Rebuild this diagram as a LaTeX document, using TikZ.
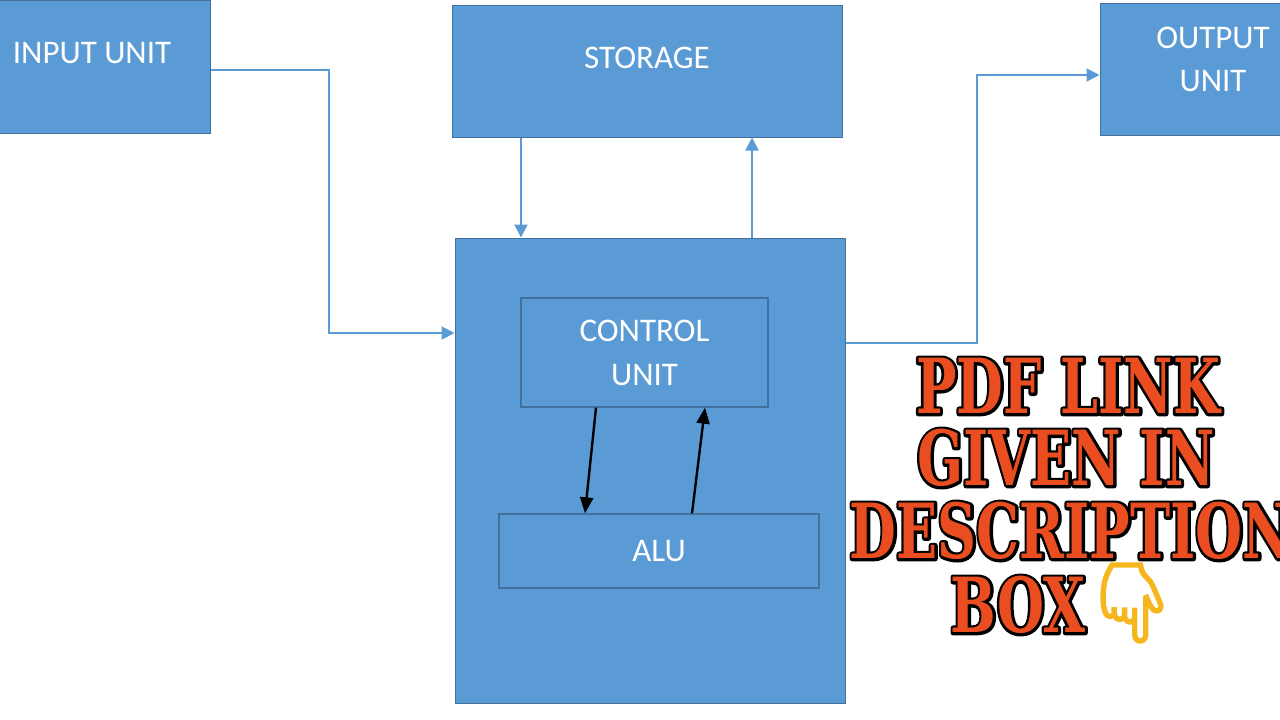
\documentclass[tikz,border=0pt]{standalone}
\usepackage{fontspec}
\setmainfont{Carlito}
\newfontfamily\pdffont[FakeStretch=0.71]{DejaVu Serif}
\newfontfamily\emojifont[FakeBold=3]{Noto Emoji}
\usetikzlibrary{arrows.meta,calc}

\definecolor{boxblue}{RGB}{91,155,213}
\definecolor{edgeblue}{RGB}{65,113,156}
\definecolor{pdforange}{RGB}{234,78,32}
\definecolor{thumbyellow}{RGB}{245,182,30}

\tikzset{
  unitbox/.style={draw=edgeblue,line width=1pt,fill=boxblue,inner sep=0pt},
  innerbox/.style={draw=edgeblue,line width=1.3pt,fill=boxblue,inner sep=0pt,
    text=white,font=\fontsize{33}{44}\selectfont,align=center},
  boxtext/.style={text=white,font=\fontsize{33}{43}\selectfont,align=center,inner sep=0pt},
  conn/.style={draw=boxblue,line width=2pt,-{Triangle[length=13pt,width=13pt]}},
  ctrl/.style={draw=black,line width=2.4pt,-{Triangle[length=16pt,width=13pt]}},
  pdftext/.style={font=\pdffont\bfseries\fontsize{76}{80}\selectfont,inner sep=0pt,text=pdforange}
}

\newcommand{\bends}{
    \coordinate (inturn)  at (329,333);
    \coordinate (outturn) at (977,343);

    \coordinate (p1) at (1068,386);
    \coordinate (p2) at (1066,458);
    \coordinate (p3) at (1071,531);
    \coordinate (p4) at (1018,605);
}
% black stroked letters under orange ones
\newcommand{\inked}[1]{%
  \rlap{\special{pdf:literal direct 0 0 0 RG 1 Tr 5.5 w 1 j}#1\special{pdf:literal direct 0 Tr}}#1}

\begin{document}
\begin{tikzpicture}[x=1pt,y=-1pt]
  \useasboundingbox (0,0) rectangle (1280,720);
  \clip (0,0) rectangle (1280,720);
  \bends;

  % outer units
  \node[unitbox,minimum width=236pt,minimum height=133pt,
    label={[boxtext,yshift=13.5pt]center:INPUT UNIT}] (input) at (92,66.5) {};
  \node[unitbox,minimum width=390pt,minimum height=132pt,
    label={[boxtext,yshift=13pt]center:STORAGE}] (storage) at (647,71) {};
  \node[unitbox,minimum width=226pt,minimum height=132pt,
    label={[boxtext,yshift=10pt]center:OUTPUT\\UNIT}] (output) at (1213,69) {};
  \node[unitbox,minimum width=390pt,minimum height=465pt] (cpu) at (650,470.5) {};

  % inside the cpu
  \node[innerbox,minimum width=247pt,minimum height=109pt] (cu) at (644.5,352.5) {CONTROL\\UNIT};
  \node[innerbox,minimum width=320pt,minimum height=74pt] (alu) at (659,551) {ALU};

  \draw[conn] ([yshift=-3.5pt]input.east) -| (inturn) -- (inturn -| cpu.west);
  \draw[conn] ([xshift=-126pt]storage.south) -- ([xshift=-126pt]storage.south |- cpu.north);
  \draw[conn] ([xshift=102pt]cpu.north) -- ([xshift=102pt]cpu.north |- storage.south);
  \draw[conn] (cpu.east |- outturn) -- (outturn) |- ([yshift=-6pt]output.west);

  \draw[ctrl] ([xshift=-48.5pt]cu.south) -- ([xshift=-74pt]alu.north);
  \draw[ctrl] ([xshift=33pt]alu.north) -- ([xshift=60.5pt]cu.south);

  \node[pdftext] (pdf1) at (p1) {\inked{PDF LINK}};
  \node[pdftext] (pdf2) at (p2) {\inked{GIVEN IN}};
  \node[pdftext] (pdf3) at (p3) {\inked{DESCRIPTION}};
  \node[pdftext] (pdf4) at (p4) {\inked{BOX}};
  \node[text=thumbyellow,font=\emojifont\fontsize{78}{80}\selectfont,inner sep=0pt]
    (hand) at (1132,603) {👇};
\end{tikzpicture}
\end{document}
